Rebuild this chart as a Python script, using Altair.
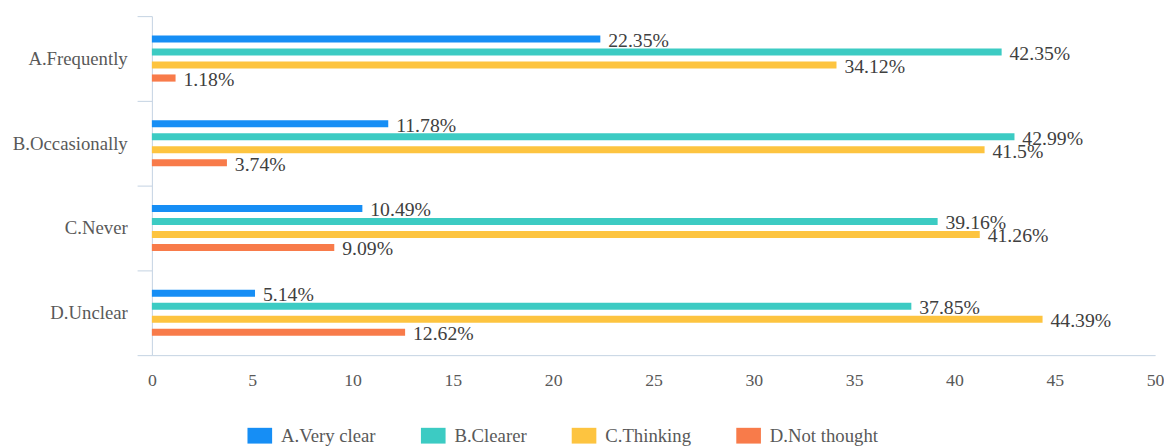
import altair as alt
import pandas as pd

categories = ["A.Frequently", "B.Occasionally", "C.Never", "D.Unclear"]
series = ["A.Very clear", "B.Clearer", "C.Thinking", "D.Not thought"]
very_clear = [22.35, 11.78, 10.49, 5.14]
clearer = [42.35, 42.99, 39.16, 37.85]
thinking = [34.12, 41.5, 41.26, 44.39]
not_thought = [1.18, 3.74, 9.09, 12.62]
colors = ["#168ef5", "#3ccbc3", "#fdc440", "#f87b4a"]
x_ticks = list(range(0, 51, 5))

rows = []
for s, vals in zip(series, [very_clear, clearer, thinking, not_thought]):
    for c, v in zip(categories, vals):
        rows.append({"category": c, "series": s, "value": v, "label": f"{v:g}%"})
df = pd.DataFrame(rows)

axis_color = "#c3d2e2"
font = "Liberation Serif"

# empty slots at both ends of each group leave the white space inside a category band
offset_domain = [" "] + series + ["  "]

y = alt.Y("category:N", sort=categories, title=None,
          scale=alt.Scale(paddingInner=0, paddingOuter=0),
          axis=alt.Axis(tickBand="extent", tickSize=15, tickColor=axis_color, domainColor=axis_color,
                        labelFont=font, labelFontSize=19, labelColor="#595959", labelPadding=10,
                        minExtent=141, maxExtent=141))
yoff = alt.YOffset("series:N",
                   scale=alt.Scale(domain=offset_domain, paddingInner=0.45, paddingOuter=0.48))
x = alt.X("value:Q", title=None, scale=alt.Scale(domain=[0, 50], nice=False),
          axis=alt.Axis(values=x_ticks, grid=False, ticks=False, tickSize=0, domainColor=axis_color,
                        labelFont=font, labelFontSize=18, labelColor="#595959", labelPadding=17,
                        labelFlush=False))
color = alt.Color("series:N", sort=series, scale=alt.Scale(domain=series, range=colors),
                  legend=alt.Legend(title=None, orient="none", legendX=97, legendY=413,
                                    direction="horizontal",
                                    symbolType="M-1,-0.64H1V0.64H-1Z", symbolSize=625,
                                    symbolStrokeWidth=0,
                                    labelFont=font, labelFontSize=19, labelColor="#595959",
                                    labelOffset=9, columnPadding=45, padding=0))

bars = alt.Chart(df).mark_bar().encode(x=x, y=y, yOffset=yoff, color=color)
labels = alt.Chart(df).mark_text(
    align="left", baseline="middle", dx=8, dy=2, font=font, fontSize=20, color="#404040"
).encode(
    x="value:Q",
    y=alt.Y("category:N", sort=categories),
    yOffset=alt.YOffset("series:N"),
    text="label:N",
)

chart = alt.layer(bars, labels).properties(
    width=1018, height=344,
    padding={"left": 4, "top": -4, "right": 0, "bottom": 0},
).configure_view(stroke=None)

chart.save("out.html", embed_options={"renderer": "svg", "actions": False})
